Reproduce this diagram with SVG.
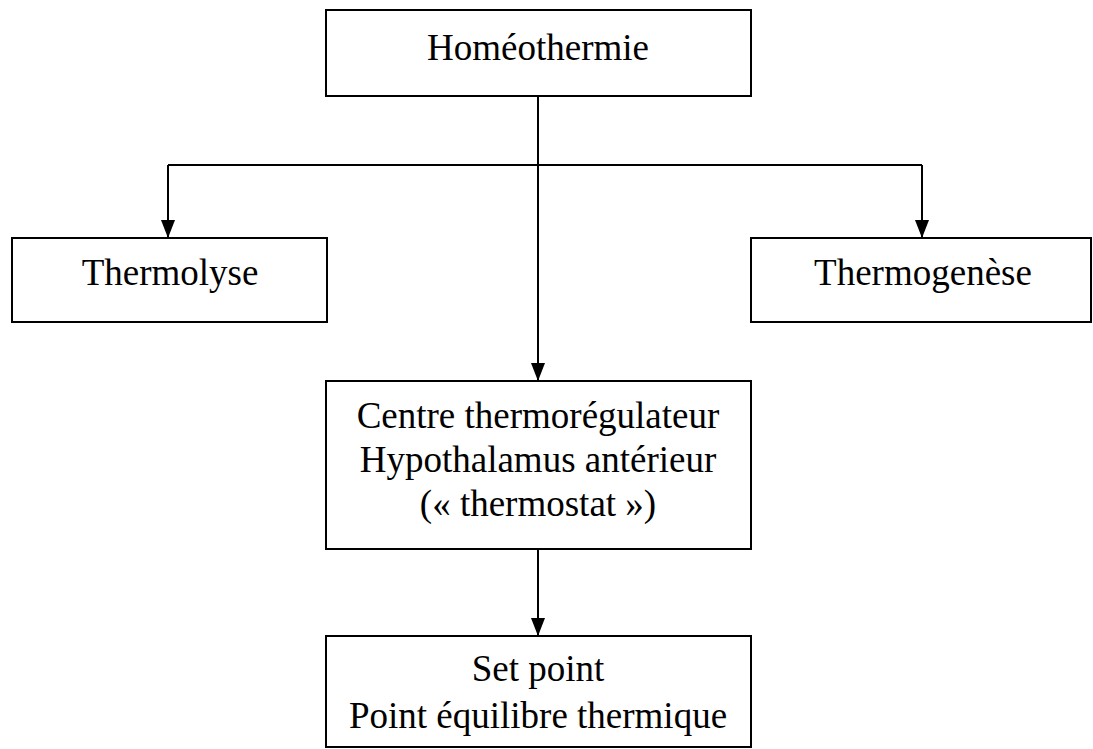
<svg xmlns="http://www.w3.org/2000/svg" width="1093" height="749" viewBox="0 0 1093 749">
<style>
.box{fill:#fff;stroke:#000;stroke-width:2}
.t{font-family:"Liberation Serif","Times New Roman",serif;font-size:37px;fill:#000;text-anchor:middle}
.c{fill:none;stroke:#000;stroke-width:2}
</style>
<defs>
<marker id="ah" markerUnits="userSpaceOnUse" markerWidth="18" markerHeight="14" refX="18" refY="7" orient="auto" viewBox="0 0 18 14">
<path d="M0,0 L18,7 L0,14 Z" fill="#000"/>
</marker>
</defs>
<rect width="1093" height="749" fill="#fff"/>
<g id="connectors">
<path class="c" d="M538,96 V381" marker-end="url(#ah)"/>
<path class="c" d="M168,165 H922"/>
<path class="c" d="M168,165 V238" marker-end="url(#ah)"/>
<path class="c" d="M922,165 V238" marker-end="url(#ah)"/>
<path class="c" d="M538,550 V636" marker-end="url(#ah)"/>
</g>
<g id="homeothermie">
<rect class="box" x="326" y="10" width="425" height="86"/>
<text class="t" x="538" y="60">Homéothermie</text>
</g>
<g id="thermolyse">
<rect class="box" x="12" y="238" width="315" height="84"/>
<text class="t" x="170" y="285">Thermolyse</text>
</g>
<g id="thermogenese">
<rect class="box" x="751" y="238" width="340" height="84"/>
<text class="t" x="923" y="285">Thermogenèse</text>
</g>
<g id="centre">
<rect class="box" x="326" y="381" width="425" height="168"/>
<text class="t" x="538" y="428">Centre thermorégulateur</text>
<text class="t" x="538" y="472">Hypothalamus antérieur</text>
<text class="t" x="538" y="516">(« thermostat »)</text>
</g>
<g id="setpoint">
<rect class="box" x="326" y="636" width="425" height="111"/>
<text class="t" x="538" y="681">Set point</text>
<text class="t" x="538" y="728">Point équilibre thermique</text>
</g>
</svg>
